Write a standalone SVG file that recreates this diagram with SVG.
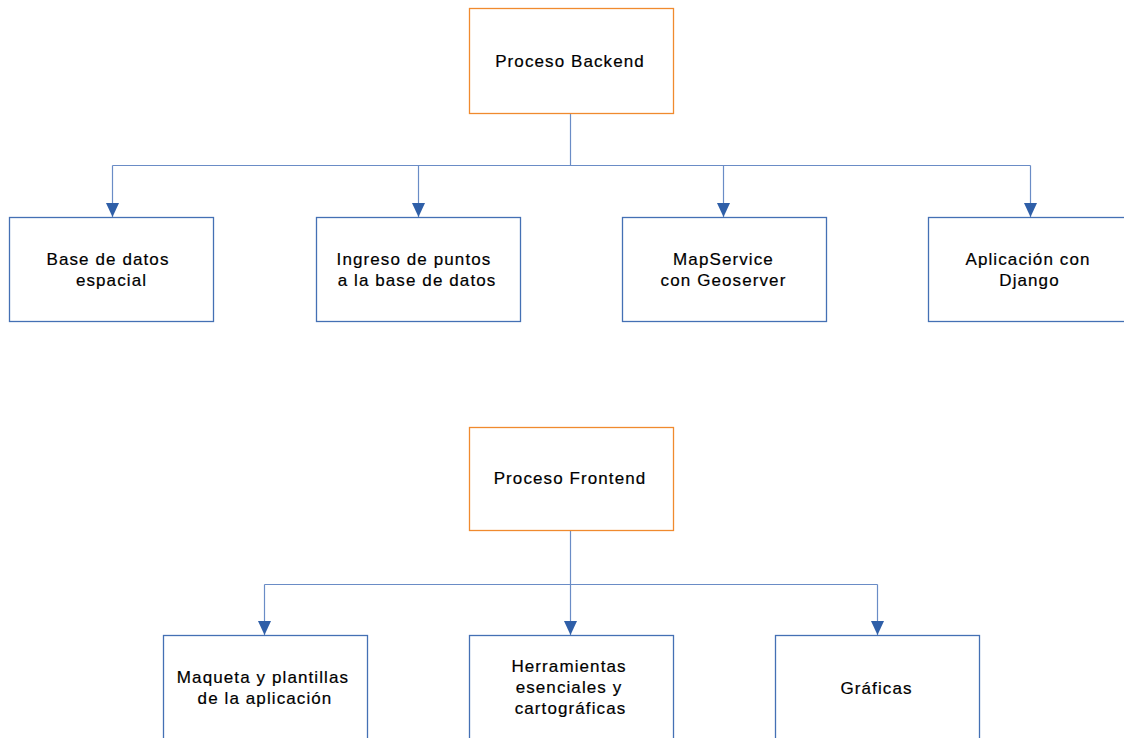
<svg xmlns="http://www.w3.org/2000/svg" width="1124" height="738" viewBox="0 0 1124 738">
<defs>
<style>
.bg{fill:#ffffff}
.parent{fill:#ffffff;stroke:#F08A2E;stroke-width:1.3}
.child{fill:#ffffff;stroke:#4470B4;stroke-width:1.3}
.conn{fill:none;stroke:#6A8CC6;stroke-width:1.2}
.lbl{font-family:"Liberation Sans",Arial,sans-serif;font-size:17px;letter-spacing:1.1px;fill:#000000;stroke:#000000;stroke-width:0.2;text-anchor:middle}
</style>
<marker id="arr" markerUnits="userSpaceOnUse" markerWidth="14" markerHeight="13" viewBox="0 0 14 13" refX="14" refY="6.5" orient="auto">
<path d="M0,0 L14,6.5 L0,13 z" fill="#2F5FA8"/>
</marker>
</defs>
<rect class="bg" x="0" y="0" width="1124" height="738"/>

<g id="connectors">
<path class="conn" d="M570.5,114 V165.5"/>
<path class="conn" d="M112.5,165.5 H1030.5"/>
<path class="conn" d="M112.5,165.5 V217" marker-end="url(#arr)"/>
<path class="conn" d="M418.5,165.5 V217" marker-end="url(#arr)"/>
<path class="conn" d="M723.5,165.5 V217" marker-end="url(#arr)"/>
<path class="conn" d="M1030.5,165.5 V217" marker-end="url(#arr)"/>
<path class="conn" d="M570.5,531 V584.5"/>
<path class="conn" d="M264.5,584.5 H877.5"/>
<path class="conn" d="M264.5,584.5 V635" marker-end="url(#arr)"/>
<path class="conn" d="M570.5,584.5 V635" marker-end="url(#arr)"/>
<path class="conn" d="M877.5,584.5 V635" marker-end="url(#arr)"/>
</g>

<g id="backend">
<rect class="parent" x="469.5" y="8.5" width="204" height="105"/>
<text class="lbl" x="570" y="66.5">Proceso Backend</text>
</g>
<g id="base-datos">
<rect class="child" x="9.5" y="217.5" width="204" height="104"/>
<text class="lbl" x="108" y="265">Base de datos</text>
<text class="lbl" x="111.5" y="286">espacial</text>
</g>
<g id="ingreso">
<rect class="child" x="316.5" y="217.5" width="204" height="104"/>
<text class="lbl" x="414" y="265">Ingreso de puntos</text>
<text class="lbl" x="417" y="286">a la base de datos</text>
</g>
<g id="mapservice">
<rect class="child" x="622.5" y="217.5" width="204" height="104"/>
<text class="lbl" x="723.5" y="265">MapService</text>
<text class="lbl" x="723.5" y="286">con Geoserver</text>
</g>
<g id="django">
<rect class="child" x="928.5" y="217.5" width="204" height="104"/>
<text class="lbl" x="1028" y="265">Aplicación con</text>
<text class="lbl" x="1029.5" y="286">Django</text>
</g>

<g id="frontend">
<rect class="parent" x="469.5" y="427.5" width="204" height="103"/>
<text class="lbl" x="570" y="484">Proceso Frontend</text>
</g>
<g id="maqueta">
<rect class="child" x="163.5" y="635.5" width="204" height="104"/>
<text class="lbl" x="263" y="683">Maqueta y plantillas</text>
<text class="lbl" x="265" y="704">de la aplicación</text>
</g>
<g id="herramientas">
<rect class="child" x="469.5" y="635.5" width="204" height="104"/>
<text class="lbl" x="569" y="672">Herramientas</text>
<text class="lbl" x="569" y="693">esenciales y</text>
<text class="lbl" x="570.5" y="714">cartográficas</text>
</g>
<g id="graficas">
<rect class="child" x="775.5" y="635.5" width="204" height="104"/>
<text class="lbl" x="876.5" y="694">Gráficas</text>
</g>
</svg>
